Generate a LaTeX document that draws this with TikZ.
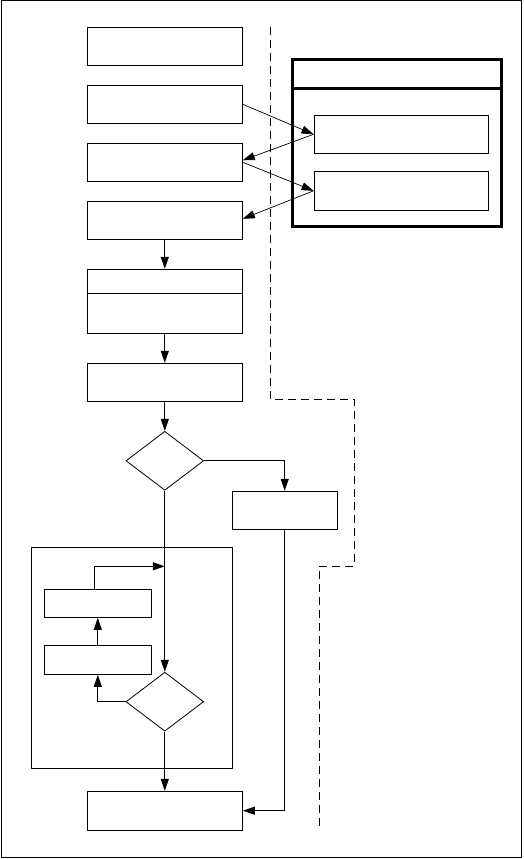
\documentclass[tikz,border=0pt]{standalone}
\usetikzlibrary{arrows.meta,shapes.geometric,calc}
\begin{document}
\begin{tikzpicture}[x=1pt,y=-1pt,line width=1pt,
  box/.style={draw,rectangle,minimum width=155pt,minimum height=38pt,inner sep=0pt},
  sbox/.style={draw,rectangle,inner sep=0pt},
  dia/.style={draw,diamond,minimum width=77.7pt,minimum height=59pt,inner sep=0pt,line width=0.8pt},
  arr/.style={-{Triangle[length=12pt,width=8pt]}},
  darr/.style={-{Triangle[length=12pt,width=8pt]},line width=0.7pt}]
\useasboundingbox (0,0) rectangle (523,859);
\draw (1,1) rectangle (521.5,857.7);
% main column
\node[box] (b1) at (164.8,46.3) {};
\node[box] (b2) at (164.8,104.3) {};
\node[box] (b3) at (164.8,162.3) {};
\node[box] (b4) at (164.8,220.3) {};
\node[box,minimum height=64pt] (b5) at (164.8,301.3) {};
\draw ($(b5.north west)+(0,25)$) -- ($(b5.north east)+(0,25)$);
\node[box] (b6) at (164.8,382.3) {};
\node[dia] (d1) at (164.8,460.8) {};
\node[sbox,minimum width=104.7pt,minimum height=38pt] (b7) at (284.7,510.3) {};
\draw (31.3,547.3) rectangle (232.3,768.3);
\node[sbox,minimum width=107pt,minimum height=28pt] (ia) at (97.8,603.3) {};
\node[sbox,minimum width=107pt,minimum height=29pt] (ib) at (97.8,659.8) {};
\node[dia] (d2) at (164.8,701.7) {};
\node[box,minimum height=38.7pt] (bf) at (164.8,810.7) {};
% right thick frame
\node[draw,rectangle,line width=3pt,minimum width=209pt,minimum height=167.3pt,inner sep=0pt] (tf) at (396.7,143.15) {};
\draw[line width=3pt] ($(tf.north west)+(0,30)$) -- ($(tf.north east)+(0,30)$);
\node[sbox,minimum width=174.3pt,minimum height=38pt] (c) at (401.2,134.3) {};
\node[sbox,minimum width=174.3pt,minimum height=39pt] (d) at (401.2,190.8) {};
% diagonal arrows
\draw[darr] (b2.east) -- (c.west);
\draw[darr] (c.west) -- ($(b3.east)+(0,-2)$);
\draw[darr] (b3.east) -- (d.west);
\draw[darr] (d.west) -- ($(b4.east)+(0,-1.5)$);
% vertical flow
\draw[arr] (b4.south) -- (b5.north);
\draw[arr] (b5.south) -- (b6.north);
\draw[arr] (b6.south) -- (d1.north);
\draw[arr] (d1.east) -| (b7.north);
\draw[arr] (d1.south) -- (d2.north);
\draw[arr] (d2.south) -- (bf.north);
\draw[arr] (b7.south) |- (bf.east);
% inner loop
\coordinate (j) at (164.8,566.3);
\draw[arr] (d2.west) -| (ib.south);
\draw[arr] (ib.north) -- (ia.south);
\draw[arr] ($(ia.north)+(-3.5,0)$) |- (j);
% dashed boundary
\draw[dashed,dash pattern=on 8pt off 5pt] (270,27.3) -- (270,399.3) -- (354,399.3) -- (354,566.3) -- (319,566.3) -- (319,829.3);
\end{tikzpicture}
\end{document}
